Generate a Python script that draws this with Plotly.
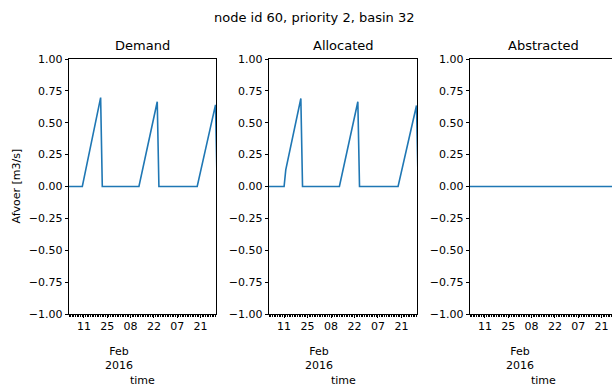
import plotly.graph_objects as go

# ---- data ----
demand_dates = ["2016-01-01", "2016-01-10", "2016-01-21", "2016-01-22", "2016-02-13",
                "2016-02-24", "2016-02-25", "2016-03-19", "2016-03-30", "2016-03-31"]
demand_vals = [0.0, 0.0, 0.697, 0.0, 0.0, 0.665, 0.0, 0.0, 0.64, 0.0]

allocated_dates = ["2016-01-01", "2016-01-11", "2016-01-12", "2016-01-21", "2016-01-22",
                   "2016-02-13", "2016-02-24", "2016-02-25", "2016-03-19", "2016-03-30", "2016-03-31"]
allocated_vals = [0.0, 0.0, 0.13, 0.69, 0.0, 0.0, 0.665, 0.0, 0.0, 0.635, 0.0]

abstracted_dates = ["2016-01-01", "2016-03-31"]
abstracted_vals = [0.0, 0.0]

panel_titles = ["Demand", "Allocated", "Abstracted"]
suptitle = "node id 60, priority 2, basin 32"
y_label = "Afvoer [m3/s]"
x_label = "time"

x_tickvals = ["2016-01-11", "2016-01-25", "2016-02-08", "2016-02-22", "2016-03-07", "2016-03-21"]
x_ticktext = ["11", "25", "08", "22", "07", "21"]
month_tick = "2016-02-01"
month_label = "Feb<br>2016"
y_tickvals = [-1.0, -0.75, -0.5, -0.25, 0.0, 0.25, 0.5, 0.75, 1.0]

# ---- layout geometry ----
W, H = 612, 387
FONT = "DejaVu Sans"
COLOR = "#1f77b4"

x_domains = [(69 / W, 216 / W), (269 / W, 417 / W), (470 / W, 1.0)]
y_domain = (1 - 314 / H, 1 - 59 / H)
x_ranges = [["2016-01-02", "2016-03-30 07:00"],
            ["2016-01-02", "2016-03-30 07:00"],
            ["2016-01-02", "2016-03-27 07:00"]]

series = [(demand_dates, demand_vals), (allocated_dates, allocated_vals),
          (abstracted_dates, abstracted_vals)]

fig = go.Figure()
annotations = []
for i, (xs, ys) in enumerate(series):
    sfx = "" if i == 0 else str(i + 1)
    fig.add_trace(go.Scatter(x=xs, y=ys, mode="lines",
                             line=dict(color=COLOR, width=1.6),
                             xaxis="x" + sfx, yaxis="y" + sfx, showlegend=False))
    fig.layout["xaxis" + sfx] = dict(
        domain=list(x_domains[i]), anchor="y" + sfx, type="date", automargin=False,
        range=x_ranges[i], tickmode="array", tickvals=x_tickvals, ticktext=x_ticktext,
        ticks="outside", ticklen=3.5, tickwidth=0.8, tickcolor="black",
        ticklabelstandoff=-2,
        showline=True, linecolor="black", linewidth=0.8, mirror=True,
        showgrid=False, zeroline=False,
        tickfont=dict(family=FONT, size=11, color="black"),
        minor=dict(tickmode="linear", tick0="2016-01-01", dtick=86400000,
                   ticks="outside", ticklen=2, tickwidth=0.6, tickcolor="black",
                   showgrid=False),
    )
    fig.layout["yaxis" + sfx] = dict(
        domain=list(y_domain), anchor="x" + sfx, range=[-1, 1], automargin=False,
        tickmode="array", tickvals=y_tickvals, tickformat=".2f",
        ticks="outside", ticklen=3.5, tickwidth=0.8, tickcolor="black",
        showline=True, linecolor="black", linewidth=0.8, mirror=(i < 2),
        showgrid=False, zeroline=False,
        tickfont=dict(family=FONT, size=11, color="black"),
    )
    xc = (x_domains[i][0] + x_domains[i][1]) / 2 if i < 2 else (470 + 147 / 2) / W
    annotations.append(dict(text=panel_titles[i], x=xc, y=1 - 46 / H, xref="paper", yref="paper",
                            xanchor="center", yanchor="middle", showarrow=False,
                            font=dict(family=FONT, size=13, color="black")))
    annotations.append(dict(text=x_label, x=xc, y=1 - 380 / H, xref="paper", yref="paper",
                            xanchor="center", yanchor="middle", showarrow=False,
                            font=dict(family=FONT, size=11, color="black")))
    annotations.append(dict(text=month_label, x=month_tick, xref="x" + sfx,
                            y=1 - 358.5 / H, yref="paper", xanchor="center", yanchor="middle",
                            showarrow=False, font=dict(family=FONT, size=11, color="black")))

annotations.append(dict(text=suptitle, x=314 / W, y=1 - 17 / H, xref="paper", yref="paper",
                        xanchor="center", yanchor="middle", showarrow=False,
                        font=dict(family=FONT, size=13, color="black")))
annotations.append(dict(text=y_label, x=16 / W, y=1 - 186.5 / H, xref="paper", yref="paper",
                        xanchor="center", yanchor="middle", textangle=-90, showarrow=False,
                        font=dict(family=FONT, size=11, color="black")))

fig.update_layout(width=W, height=H, margin=dict(l=0, r=0, t=0, b=0, autoexpand=False),
                  template="none",
                  paper_bgcolor="white", plot_bgcolor="white",
                  annotations=annotations, font=dict(family=FONT))

fig.write_html("out.html", config={"displayModeBar": False},
               post_script="document.body.style.margin='0';document.body.style.overflow='hidden';")
